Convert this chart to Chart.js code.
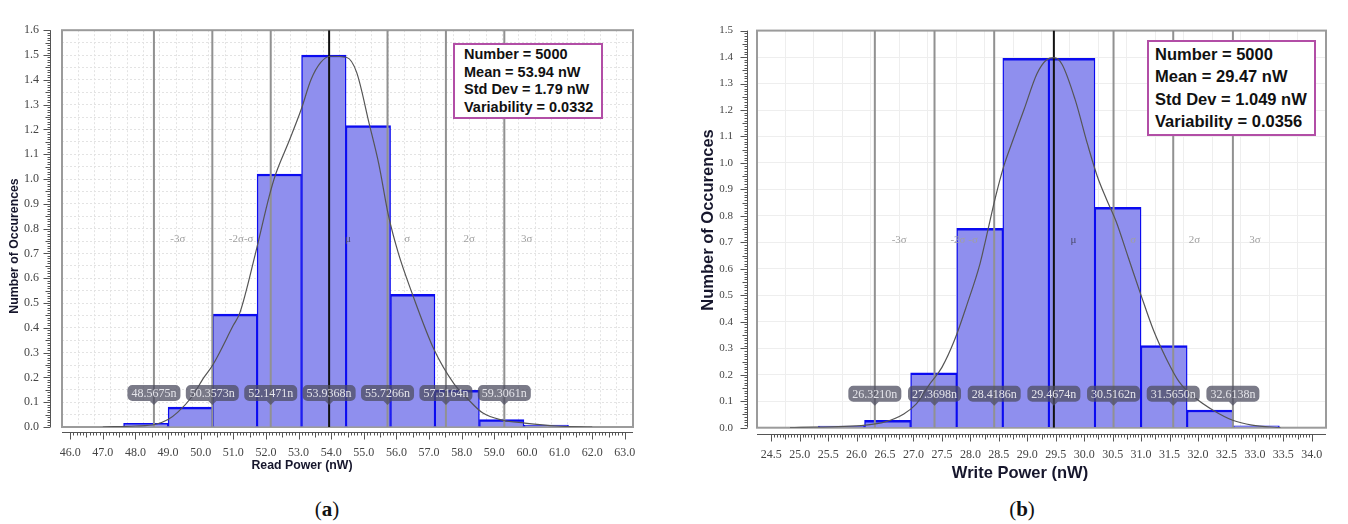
<!DOCTYPE html>
<html>
<head>
<meta charset="utf-8">
<script src="https://cdn.jsdelivr.net/npm/chart.js@4/dist/chart.umd.min.js"></script>
<style>
  body { margin: 0; width: 1348px; height: 524px; background: #fff; position: relative; overflow: hidden; font-family: "Liberation Sans", Arial, sans-serif; }
  canvas { position: absolute; top: 0; }
  .stats { position: absolute; box-sizing: border-box; border: 2.5px solid #b24ea6; background: #fff; font-weight: bold; color: #111; white-space: nowrap; }
  .cap { position: absolute; top: 497px; width: 80px; text-align: center; font-family: "Liberation Serif", serif; font-size: 21px; color: #111; }
</style>
</head>
<body>

<canvas id="chartA" width="670" height="490" style="left:0px"></canvas>
<canvas id="chartB" width="668" height="490" style="left:680px"></canvas>

<div class="stats" style="left:453px;top:43px;width:150px;height:76px;font-size:14.5px;line-height:17.7px;padding:1px 0 0 9px">
  Number = 5000<br>Mean = 53.94 nW<br>Std Dev = 1.79 nW<br>Variability = 0.0332
</div>
<div class="stats" style="left:1147px;top:40px;width:169px;height:96px;font-size:16.5px;line-height:22.3px;padding:1px 0 0 6px">
  Number = 5000<br>Mean = 29.47 nW<br>Std Dev = 1.049 nW<br>Variability = 0.0356
</div>

<div class="cap" style="left:287px">(<b>a</b>)</div>
<div class="cap" style="left:982px">(<b>b</b>)</div>

<script>
// ---- (a) Read Power ----
var binCentersA = [48.32, 49.685, 51.05, 52.41, 53.775, 55.14, 56.50, 57.86, 59.225, 60.59];
var countsA = [0.015, 0.08, 0.455, 1.02, 1.50, 1.215, 0.535, 0.148, 0.03, 0.008];
var curveXA = [47.0, 48.0, 48.6, 49.0, 49.3, 49.72, 50.1, 50.37, 51.0, 51.2, 51.68, 52.1, 52.3, 52.7, 53.08, 53.38, 53.68, 53.98, 54.48, 54.78, 55.17, 55.46, 55.76, 56.06, 56.45, 57.16, 57.76, 58.23, 58.65, 59.24, 59.93, 60.91, 62.0];
var curveYA = [0.0, 0.004, 0.01, 0.03, 0.06, 0.12, 0.20, 0.25, 0.41, 0.46, 0.70, 0.93, 1.02, 1.15, 1.28, 1.40, 1.47, 1.495, 1.49, 1.43, 1.22, 1.06, 0.85, 0.70, 0.55, 0.31, 0.175, 0.107, 0.056, 0.028, 0.016, 0.004, 0.0];
var sigmaA = [48.5675, 50.3573, 52.1471, 53.9368, 55.7266, 57.5164, 59.3061];
var namesA = ['-3σ', '-2σ-σ', 'μ', 'σ', '2σ', '3σ'];
var namePosA = [49.30, 51.24, 54.51, 56.33, 58.23, 59.99];

// ---- (b) Write Power ----
var binCentersB = [25.735, 26.545, 27.355, 28.165, 28.975, 29.785, 30.595, 31.405, 32.215, 33.025];
var countsB = [0.006, 0.028, 0.207, 0.753, 1.395, 1.395, 0.832, 0.31, 0.067, 0.007];
var curveXB = [24.83, 26.16, 26.5, 26.83, 27.05, 27.27, 27.5, 27.72, 27.94, 28.17, 28.28, 28.44, 28.59, 28.72, 28.94, 29.17, 29.34, 29.47, 29.61, 29.84, 30.06, 30.23, 30.39, 30.56, 30.78, 31.0, 31.22, 31.45, 31.67, 31.95, 32.28, 32.61, 32.95, 33.45];
var curveYB = [0.0, 0.01, 0.022, 0.052, 0.09, 0.16, 0.228, 0.33, 0.465, 0.62, 0.72, 0.87, 0.99, 1.07, 1.20, 1.337, 1.39, 1.398, 1.373, 1.24, 1.07, 0.95, 0.864, 0.78, 0.64, 0.50, 0.367, 0.258, 0.173, 0.113, 0.064, 0.028, 0.01, 0.0];
var sigmaB = [26.3210, 27.3698, 28.4186, 29.4674, 30.5162, 31.5650, 32.6138];
var namesB = ['-3σ', '-2σ -σ', 'μ', 'σ', '2σ', '3σ'];
var namePosB = [26.75, 27.89, 29.81, 30.86, 31.94, 33.0];


// box, etichette sigma, fumetti, righello degli assi e titoli
var decoPlugin = {
  id: 'deco',
  beforeDatasetsDraw: function (chart, args, o) {
    var a = chart.chartArea, ctx = chart.ctx;
    ctx.save();
    ctx.strokeStyle = '#9b9b9b';
    ctx.lineWidth = 2;
    ctx.strokeRect(a.left, a.top, a.right - a.left, a.bottom - a.top);
    ctx.restore();
  },
  afterDatasetsDraw: function (chart, args, o) {
    var ctx = chart.ctx, a = chart.chartArea;
    var xs = chart.scales.x, ys = chart.scales.y;
    ctx.save();
    ctx.textAlign = 'center';
    ctx.textBaseline = 'middle';

    ctx.font = '11px "Liberation Serif"';
    for (var i = 0; i < o.names.length; i++) {
      ctx.fillStyle = o.names[i] == 'μ' ? '#4a4a6a' : '#a0a0a0';
      ctx.fillText(o.names[i], xs.getPixelForValue(o.namePos[i]), ys.getPixelForValue(o.nameY));
    }

    ctx.font = '12px "Liberation Serif"';
    for (var i = 0; i < o.sigma.length; i++) {
      var txt = o.sigma[i].toFixed(4) + 'n';
      var px = xs.getPixelForValue(o.sigma[i]);
      var w = ctx.measureText(txt).width + 8, h = 16;
      var cy = a.bottom - o.bubbleRise;
      ctx.fillStyle = 'rgba(78,78,96,0.75)';
      ctx.beginPath();
      ctx.roundRect(px - w / 2, cy - h / 2, w, h, 5);
      ctx.moveTo(px - 4, cy + h / 2);
      ctx.lineTo(px + 4, cy + h / 2);
      ctx.lineTo(px, cy + h / 2 + 4);
      ctx.closePath();
      ctx.fill();
      ctx.fillStyle = '#e4e4ea';
      ctx.fillText(txt, px, cy + 1);
    }
    ctx.restore();
  },
  afterDraw: function (chart, args, o) {
    var ctx = chart.ctx, a = chart.chartArea;
    var xs = chart.scales.x, ys = chart.scales.y;
    ctx.save();
    ctx.strokeStyle = '#555';
    ctx.lineWidth = 1;
    ctx.beginPath();

    //asse y spostato a sinistra del box
    var ax = Math.round(a.left - o.yGap) + 0.5;
    ctx.moveTo(ax, a.top);
    ctx.lineTo(ax, a.bottom);
    var n = Math.round((ys.max - ys.min) / o.yMinor);
    for (var k = 0; k <= n; k++) {
      var py = Math.round(ys.getPixelForValue(ys.min + k * o.yMinor)) + 0.5;
      var len = k % 10 == 0 ? 7 : (k % 5 == 0 ? 5 : 3);
      ctx.moveTo(ax, py);
      ctx.lineTo(ax - len, py);
    }

    //asse x sotto il box
    var ay = Math.round(a.bottom + o.xGap) + 0.5;
    ctx.moveTo(a.left, ay);
    ctx.lineTo(a.right, ay);
    n = Math.round((xs.max - xs.min) / o.xMinor);
    for (k = 0; k <= n; k++) {
      var px = Math.round(xs.getPixelForValue(xs.min + k * o.xMinor)) + 0.5;
      var len2 = k % 10 == 0 ? 7 : (k % 5 == 0 ? 5 : 3);
      ctx.moveTo(px, ay);
      ctx.lineTo(px, ay + len2);
    }
    ctx.stroke();

    ctx.fillStyle = '#16162c';
    ctx.font = o.titleFont;
    ctx.textAlign = 'center';
    ctx.textBaseline = 'middle';
    ctx.fillText(o.xTitle, o.xTitlePos[0], o.xTitlePos[1]);
    ctx.translate(o.yTitlePos[0], o.yTitlePos[1]);
    ctx.rotate(-Math.PI / 2);
    ctx.fillText(o.yTitle, 0, 0);
    ctx.restore();
  }
};


function makeChart(id, s) {

  var datasets = [];

  // istogramma: 'flex' prende la larghezza dalla distanza tra i centri
  datasets.push({
    type: 'bar',
    data: s.bins.map(function (b, i) { return { x: b, y: s.counts[i] }; }),
    backgroundColor: 'rgb(143,143,238)',
    borderColor: '#0b0bf0',
    borderWidth: { top: 2.5, left: 1.4, right: 1.4, bottom: 0 },
    barThickness: 'flex',
    barPercentage: 1,
    categoryPercentage: 1,
    order: 5
  });

  // linee -3σ ... 3σ, la media in nero
  for (var i = 0; i < s.sigma.length; i++) {
    datasets.push({
      type: 'line',
      data: [{ x: s.sigma[i], y: 0 }, { x: s.sigma[i], y: s.yMax }],
      borderColor: i == 3 ? '#111' : '#919191',
      borderWidth: 2,
      pointRadius: 0,
      order: 3
    });
  }

  datasets.push({
    type: 'line',
    data: s.curveX.map(function (x, i) { return { x: x, y: s.curveY[i] }; }),
    borderColor: '#555',
    borderWidth: 1.2,
    pointRadius: 0,
    cubicInterpolationMode: 'monotone',
    order: 1
  });

  var tickFont = { family: '"Liberation Serif", serif', size: 12 };

  return new Chart(document.getElementById(id), {
    type: 'bar',
    data: { datasets: datasets },
    plugins: [decoPlugin],
    options: {
      responsive: false,
      animation: false,
      layout: { padding: { left: 0, top: s.top, right: s.right, bottom: 0 } },
      plugins: {
        legend: { display: false },
        tooltip: { enabled: false },
        deco: s.deco
      },
      scales: {
        x: {
          type: 'linear',
          min: s.xMin,
          max: s.xMax,
          afterFit: function (sc) { sc.height = s.xHeight; },
          ticks: {
            stepSize: 0.5,
            autoSkip: false,
            maxRotation: 0,
            padding: s.xPad,
            color: '#444',
            font: tickFont,
            callback: s.xLabel
          },
          grid: { color: s.gridColor, drawTicks: false, lineWidth: 1 },
          border: { display: false, dash: s.dash }
        },
        y: {
          min: 0,
          max: s.yMax,
          afterFit: function (sc) { sc.width = s.yWidth; },
          ticks: {
            stepSize: s.yStep,
            autoSkip: false,
            padding: s.yPad,
            color: '#444',
            font: { family: '"Liberation Serif", serif', size: s.yFont },
            callback: function (v) {
              return Math.round(v * 100) % 10 == 0 ? v.toFixed(1) : '';
            }
          },
          grid: { color: s.gridColor, drawTicks: false, lineWidth: 1 },
          border: { display: false, dash: s.dash }
        }
      }
    }
  });
}


function init() {

  makeChart('chartA', {
    bins: binCentersA, counts: countsA, curveX: curveXA, curveY: curveYA, sigma: sigmaA,
    xMin: 46, xMax: 63, yMax: 1.6, yStep: 0.05,
    top: 25, right: 37, xHeight: 63, yWidth: 62, xPad: 18.5, yPad: 23, yFont: 12,
    gridColor: '#e3e3e3', dash: [2, 2],
    xLabel: function (v) { return Math.abs(v - Math.round(v)) < 1e-6 ? v.toFixed(1) : ''; },
    deco: {
      names: namesA, namePos: namePosA, nameY: 0.757, sigma: sigmaA, bubbleRise: 34,
      yGap: 12, xGap: 5, yMinor: 0.01, xMinor: 0.1,
      titleFont: 'bold 12.3px "Liberation Sans"',
      xTitle: 'Read Power (nW)', xTitlePos: [302, 466],
      yTitle: 'Number of Occurences', yTitlePos: [15, 246]
    }
  });

  makeChart('chartB', {
    bins: binCentersB, counts: countsB, curveX: curveXB, curveY: curveYB, sigma: sigmaB,
    xMin: 24.5, xMax: 34, yMax: 1.5, yStep: 0.1,
    top: 15, right: 22, xHeight: 62.3, yWidth: 77, xPad: 20, yPad: 24, yFont: 11,
    gridColor: '#eeeeee', dash: [],
    xLabel: function (v) { return v.toFixed(1); },
    deco: {
      names: namesB, namePos: namePosB, nameY: 0.708, sigma: sigmaB, bubbleRise: 34,
      yGap: 10, xGap: 6, yMinor: 0.01, xMinor: 0.05,
      titleFont: 'bold 16.5px "Liberation Sans"',
      xTitle: 'Write Power (nW)', xTitlePos: [340, 473],
      yTitle: 'Number of Occurences', yTitlePos: [28, 220]
    }
  });
}

init();
</script>
</body>
</html>
